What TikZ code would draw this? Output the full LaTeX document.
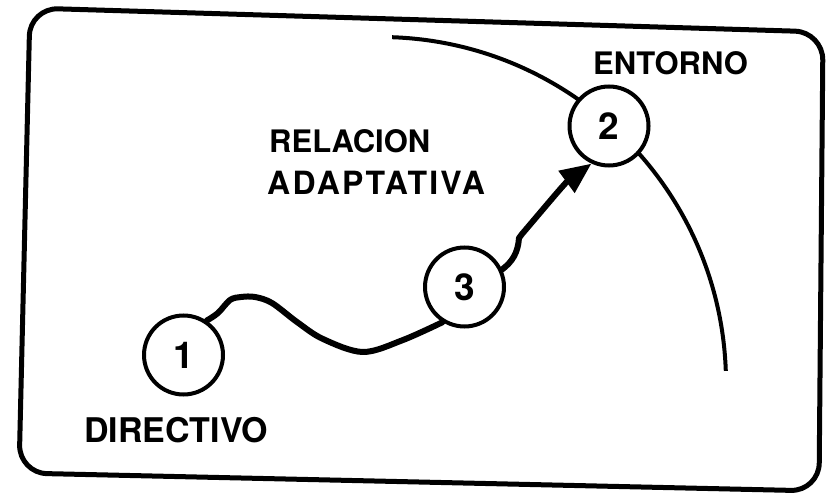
\documentclass[tikz,border=0pt]{standalone}
\usepackage{fontspec}
\setmainfont{TeX Gyre Heros}
\newfontfamily\spacedfont[LetterSpace=7]{TeX Gyre Heros}
\usetikzlibrary{arrows.meta}
\begin{document}
\begin{tikzpicture}[x=1pt,y=1pt,
  frame/.style={line width=5pt, rounded corners=28pt},
  bound/.style={line width=4pt},
  circ/.style={circle, draw, line width=4pt, fill=white, minimum size=79pt, inner sep=0pt,
    font=\bfseries\fontsize{37}{37}\selectfont},
  wig/.style={line width=6pt, line cap=round, line join=round},
  lbl/.style={inner sep=0pt, anchor=base west, font=\bfseries\fontsize{31}{31}\selectfont}]
\useasboundingbox (0,0) rectangle (826,493);
% frame
\draw[frame] (30,485) -- (823,461) -- (819,2) -- (19,20) -- cycle;
% boundary arc of the environment
\draw[bound] (380,110) ++(88:346) arc[start angle=88, end angle=2, radius=346];
% nodes
\node[circ] (n1) at (183.5,138) {1};
\node[circ] (n3) at (464.5,206) {3};
\node[circ] (n2) at (609,367) {2};
% connectors
\draw[wig] plot[smooth, tension=0.55] coordinates {(n1.56) (218,180) (230,193) (241,196) (255,196) (272,190) (297,171) (323,154) (363,141) (403,153) (n3.238)};
\draw[wig, -{Triangle[length=31pt,width=26pt]}] (n3.25) .. controls (512,231) and (518,240) .. (519,255) -- (522,259) .. controls (545,286) and (565,310) .. (n2.245);
% labels
\node[lbl] (tEnt) at (593,418) {ENTORNO};
\node[lbl] (tRel) at (269,340) {RELACION};
\node[lbl, font=\spacedfont\bfseries\fontsize{32}{32}\selectfont] (tAda) at (267,298) {ADAPTATIVA};
\node[lbl, font=\bfseries\fontsize{34}{34}\selectfont] (tDir) at (84,51) {DIRECTIVO};
\end{tikzpicture}
\end{document}
